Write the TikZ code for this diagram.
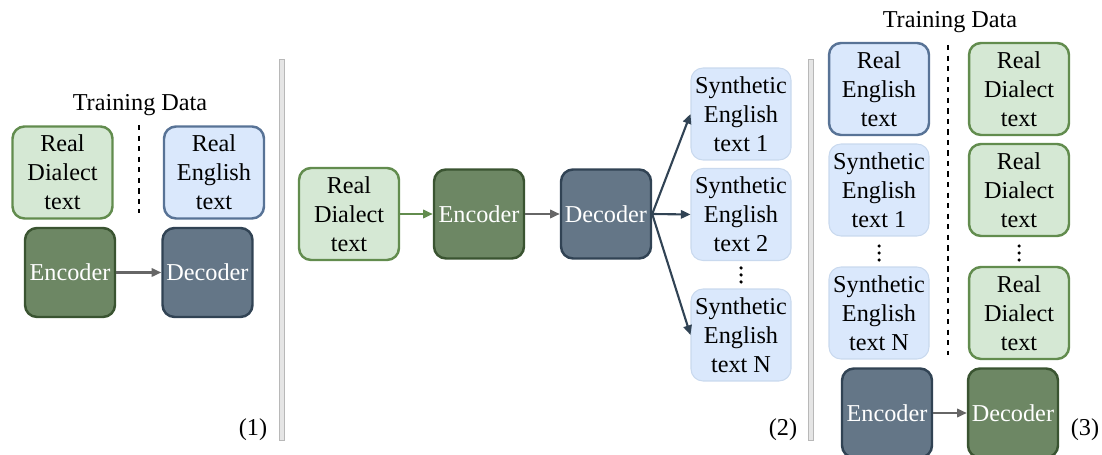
\documentclass[tikz,border=0pt]{standalone}
\usepackage{fontspec}
\setmainfont{Liberation Serif}
\usetikzlibrary{arrows.meta, positioning}
\definecolor{dialectfill}{HTML}{D5E8D4}
\definecolor{dialectline}{HTML}{628C4E}
\definecolor{englishfill}{HTML}{DAE8FC}
\definecolor{englishline}{HTML}{587396}
\definecolor{synthline}{HTML}{C9D9EE}
\definecolor{encfill}{HTML}{6D8764}
\definecolor{encline}{HTML}{3A5431}
\definecolor{decfill}{HTML}{647687}
\definecolor{decline}{HTML}{314354}
\definecolor{arrowgray}{HTML}{666666}
\tikzset{%
	every box/.style={
		rounded corners=6.8pt,
		align=center,
		inner sep=1pt,
		line width=1.4pt
	},
	dialect/.style={every box, draw=dialectline, fill=dialectfill,
		minimum width=2cm, minimum height=1.84cm},
	english/.style={every box, draw=englishline, fill=englishfill,
		minimum width=2cm, minimum height=1.84cm},
	synth/.style={every box, draw=synthline, line width=0.6pt, fill=englishfill,
		minimum width=2cm, minimum height=1.84cm},
	greenbox/.style={every box, draw=encline, fill=encfill, text=white,
		minimum width=1.8cm, minimum height=1.78cm},
	bluebox/.style={every box, draw=decline, fill=decfill, text=white,
		minimum width=1.8cm, minimum height=1.78cm},
	% vertical ellipsis drawn as three dots
	more/.style={inner sep=0pt, minimum size=0pt,
		append after command={
			\pgfextra{\foreach \dy in {-7,0,7}
				\fill (\tikzlastnode.center) ++(0,\dy) circle (1pt);}}},
	divider/.style={fill=black!10, draw=black!28, line width=0.5pt},
}

\begin{document}
\begin{tikzpicture}[x=0.02cm, y=-0.02cm,
		font=\fontsize{13.8}{16.4}\selectfont,
		>={Triangle[length=5.5pt, width=4.8pt]}]
	\useasboundingbox (0,0) rectangle (1102,455);
	\tikzstyle{flow}=[->, line width=1.2pt]
	
	% (1) training on real data
	\node (td1) at (140,105) {Training Data};
	\node[dialect](d1) at (62.5,172.5){Real\\Dialect\\text};
	\node[english](e1) at (214,172.5){Real\\English\\text};
	\coordinate (cut1a) at (139,125);
	\coordinate (cut1b) at (139,213);
	\draw[dashed, line width=0.8pt] (cut1a) -- (cut1b);
	
	\node[greenbox](enc1) at (70,272.5){Encoder};
	\node[bluebox](dec1) at (207.5,272.5){Decoder};
	\draw[flow, arrowgray] (enc1) -- (dec1);
	
	\node (n1) at (253,430) {(1)};
	
	\draw[divider] (279,59) rectangle (284,440);
	
	% (2) generating synthetic english
	\node[dialect](d2) at (349,214){Real\\Dialect\\text};
	\node[greenbox](enc2) at (479,214){Encoder};
	\node[bluebox](dec2) at (606,214){Decoder};
	
	\node[synth](s21) at (741,114){Synthetic\\English\\text 1};
	\node[synth](s22) at (741,214.5){Synthetic\\English\\text 2};
	\node[more](v2) at (741,275){};
	\node[synth](s2n) at (741,335){Synthetic\\English\\text N};
	
	\draw[flow, dialectline] (d2) -- (enc2);
	\draw[flow, arrowgray] (enc2) -- (dec2);
	\draw[flow, decline] (dec2.east) -- (s21.west);
	\draw[flow, decline] (dec2.east) -- (s22.west);
	\draw[flow, decline] (dec2.east) -- (s2n.west);
	
	\node (n2) at (783,430) {(2)};
	
	\draw[divider] (808,59) rectangle (813,440);
	
	% (3) training on real + synthetic data
	\node (td3) at (950,22) {Training Data};
	\node[english](e3) at (879,89){Real\\English\\text};
	\node[synth](s31) at (879,190){Synthetic\\English\\text 1};
	\node[more](v31) at (879,253){};
	\node[synth](s3n) at (879,313){Synthetic\\English\\text N};
	
	\node[dialect](d31) at (1019,89){Real\\Dialect\\text};
	\node[dialect](d32) at (1019,190){Real\\Dialect\\text};
	\node[more](v32) at (1019,253){};
	\node[dialect](d3n) at (1019,313){Real\\Dialect\\text};
	
	\coordinate (cut3a) at (948,45);
	\coordinate (cut3b) at (948,355);
	\draw[dashed, line width=0.8pt] (cut3a) -- (cut3b);
	
	\node[bluebox](enc3) at (887,413){Encoder};
	\node[greenbox](dec3) at (1013,413){Decoder};
	\draw[flow, arrowgray] (enc3) -- (dec3);
	
	\node (n3) at (1085,430) {(3)};
\end{tikzpicture}
\end{document}
